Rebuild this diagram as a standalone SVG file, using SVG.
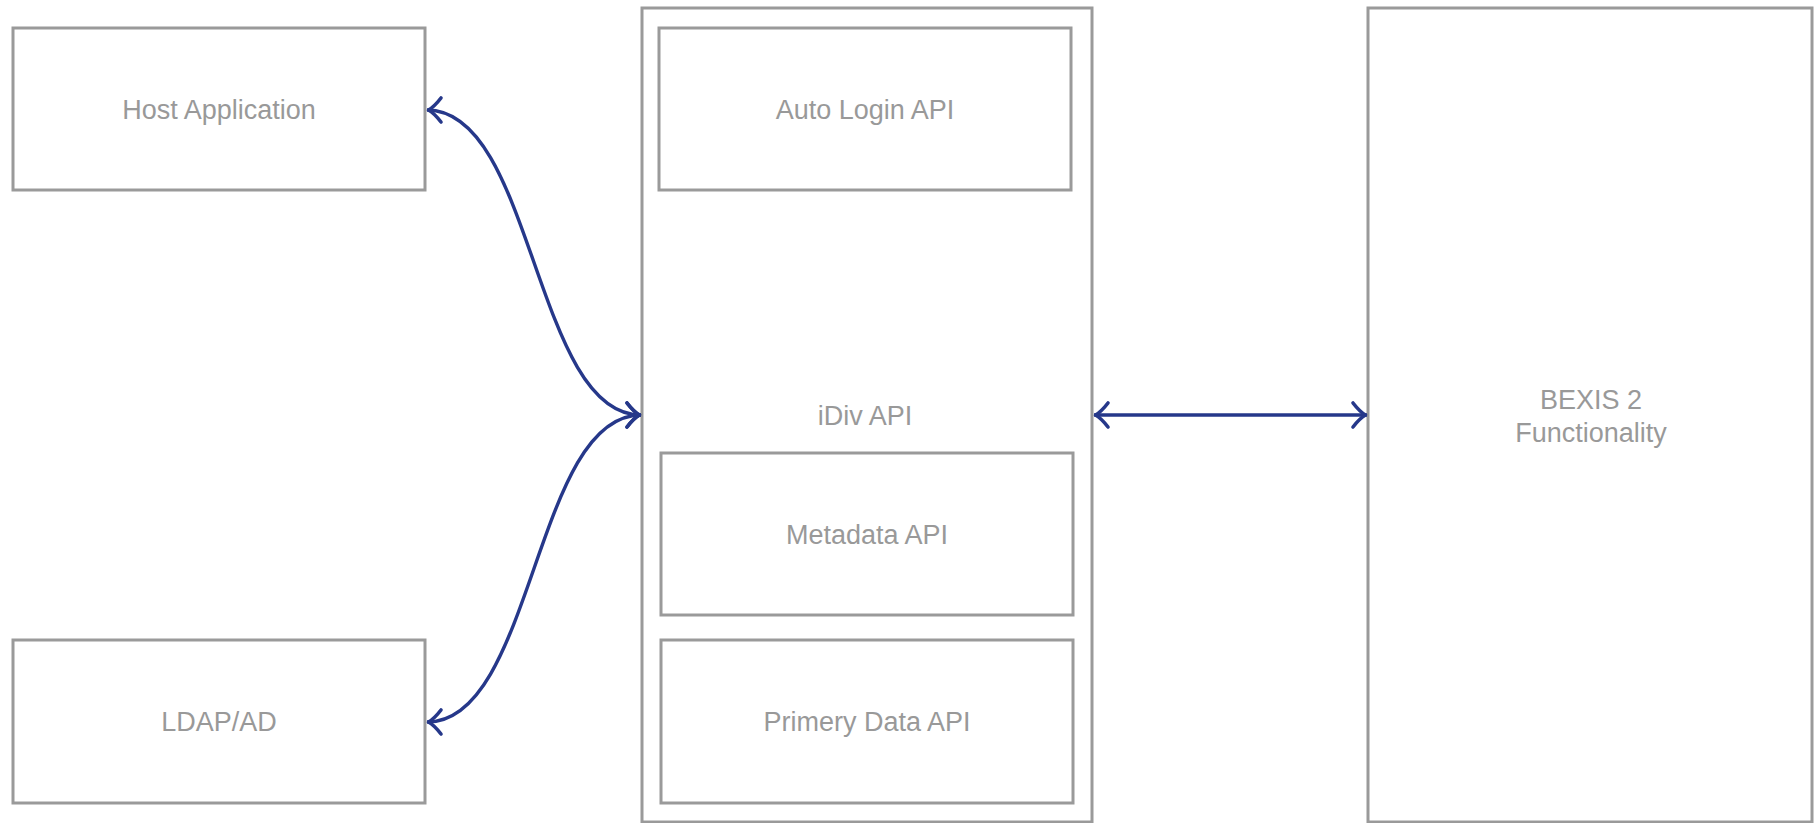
<svg xmlns="http://www.w3.org/2000/svg" width="1817" height="823" viewBox="0 0 1817 823">
<style>
.box{fill:#ffffff;stroke:#9a9a9a;stroke-width:3}
.lbl{font-family:"Liberation Sans",Arial,sans-serif;font-size:27px;fill:#999999;text-anchor:middle;dominant-baseline:central}
.edge{fill:none;stroke:#26388a;stroke-width:3.4}
</style>
<defs>
<marker id="arr" markerUnits="userSpaceOnUse" viewBox="-18 -15 22 30" markerWidth="22" markerHeight="30" refX="0" refY="0" orient="auto-start-reverse">
<path d="M -14 -12 Q -7 -3 -1.5 0 Q -7 3 -14 12" fill="none" stroke="#26388a" stroke-width="3.6" stroke-linecap="round" stroke-linejoin="round"/>
</marker>
</defs>
<rect width="1817" height="823" fill="#ffffff"/>
<g id="host-application">
<rect class="box" x="13" y="28" width="412" height="162"/>
<text class="lbl" x="219" y="110">Host Application</text>
</g>
<g id="ldap-ad">
<rect class="box" x="13" y="640" width="412" height="163"/>
<text class="lbl" x="219" y="722">LDAP/AD</text>
</g>
<g id="idiv-api">
<rect class="box" x="642" y="8" width="450" height="814"/>
<text class="lbl" x="865" y="416">iDiv API</text>
</g>
<g id="auto-login-api">
<rect class="box" x="659" y="28" width="412" height="162"/>
<text class="lbl" x="865" y="110">Auto Login API</text>
</g>
<g id="metadata-api">
<rect class="box" x="661" y="453" width="412" height="162"/>
<text class="lbl" x="867" y="535">Metadata API</text>
</g>
<g id="primery-data-api">
<rect class="box" x="661" y="640" width="412" height="163"/>
<text class="lbl" x="867" y="722">Primery Data API</text>
</g>
<g id="bexis-2">
<rect class="box" x="1368" y="8" width="444" height="814"/>
<text class="lbl" x="1591" y="400">BEXIS 2</text>
<text class="lbl" x="1591" y="433">Functionality</text>
</g>
<g id="connectors">
<path class="edge" d="M 427 110 C 534 110 534 415 641 415" marker-start="url(#arr)" marker-end="url(#arr)"/>
<path class="edge" d="M 427 722 C 534 722 534 415 641 415" marker-start="url(#arr)" marker-end="url(#arr)"/>
<path class="edge" d="M 1094 415 L 1367 415" marker-start="url(#arr)" marker-end="url(#arr)"/>
</g>
</svg>
